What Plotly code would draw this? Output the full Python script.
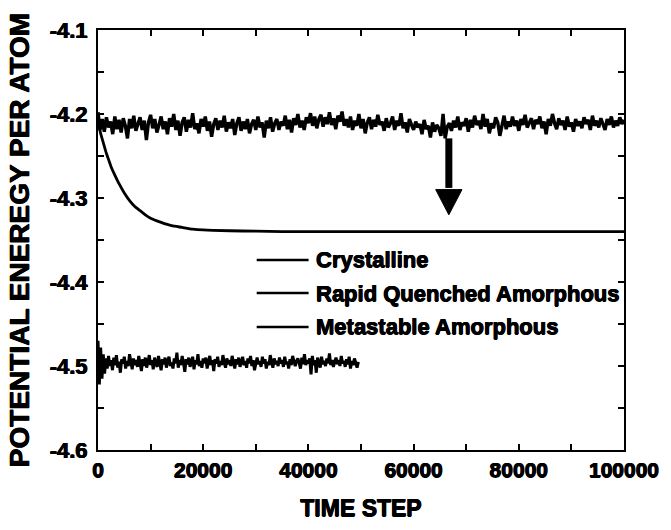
import plotly.graph_objects as go

# ---- data -------------------------------------------------------------
# Rapid quenched amorphous: potential energy sampled every 400 time steps
RQA_STEP = 400
RQA_ENERGY = [
    -4.198, -4.219, -4.206, -4.221, -4.204, -4.216, -4.209, -4.224, -4.203, -4.218,
    -4.207, -4.222, -4.205, -4.214, -4.229, -4.206, -4.217, -4.202, -4.220, -4.211,
    -4.204, -4.219, -4.208, -4.231, -4.210, -4.201, -4.217, -4.206, -4.222, -4.213,
    -4.203, -4.218, -4.209, -4.224, -4.205, -4.215, -4.200, -4.219, -4.208, -4.226,
    -4.210, -4.204, -4.221, -4.207, -4.216, -4.199, -4.218, -4.211, -4.223, -4.206,
    -4.215, -4.203, -4.220, -4.209, -4.227, -4.212, -4.205, -4.219, -4.208, -4.216,
    -4.202, -4.221, -4.210, -4.217, -4.206, -4.225, -4.211, -4.204, -4.220, -4.209,
    -4.218, -4.206, -4.223, -4.212, -4.207, -4.219, -4.203, -4.216, -4.210, -4.228,
    -4.208, -4.217, -4.204, -4.221, -4.211, -4.206, -4.219, -4.209, -4.214, -4.202,
    -4.218, -4.207, -4.222, -4.205, -4.213, -4.200, -4.216, -4.208, -4.219, -4.204,
    -4.211, -4.199, -4.214, -4.203, -4.217, -4.206, -4.201, -4.215, -4.204, -4.212,
    -4.198, -4.213, -4.205, -4.218, -4.202, -4.209, -4.197, -4.214, -4.206, -4.216,
    -4.203, -4.219, -4.208, -4.214, -4.200, -4.217, -4.206, -4.223, -4.210, -4.204,
    -4.218, -4.207, -4.215, -4.201, -4.213, -4.209, -4.220, -4.205, -4.216, -4.211,
    -4.203, -4.219, -4.208, -4.214, -4.199, -4.217, -4.210, -4.222, -4.206, -4.213,
    -4.219, -4.209, -4.216, -4.212, -4.224, -4.207, -4.218, -4.214, -4.228, -4.210,
    -4.221, -4.213, -4.217, -4.226, -4.200, -4.229, -4.215, -4.211, -4.220, -4.208,
    -4.216, -4.203, -4.219, -4.210, -4.214, -4.205, -4.221, -4.207, -4.216, -4.202,
    -4.213, -4.208, -4.218, -4.200, -4.215, -4.206, -4.223, -4.211, -4.217, -4.204,
    -4.210, -4.226, -4.212, -4.202, -4.218, -4.209, -4.215, -4.203, -4.214, -4.208,
    -4.220, -4.206, -4.213, -4.201, -4.216, -4.210, -4.205, -4.218, -4.207, -4.212,
    -4.203, -4.217, -4.209, -4.224, -4.206, -4.214, -4.200, -4.211, -4.218, -4.205,
    -4.213, -4.208, -4.219, -4.203, -4.215, -4.210, -4.221, -4.206, -4.214, -4.209,
    -4.217, -4.204, -4.212, -4.207, -4.219, -4.202, -4.214, -4.208, -4.216, -4.205,
    -4.211, -4.219, -4.206, -4.213, -4.203, -4.216, -4.208, -4.214, -4.204, -4.212,
    -4.207,
]

# Crystalline: potential energy sampled every 250 time steps
CRYS_STEP = 250
CRYS_ENERGY = [
    -4.470, -4.522, -4.478, -4.515, -4.486, -4.509, -4.491, -4.503, -4.488, -4.500,
    -4.493, -4.505, -4.490, -4.499, -4.487, -4.502, -4.495, -4.508, -4.492, -4.497,
    -4.489, -4.503, -4.494, -4.500, -4.486, -4.498, -4.504, -4.491, -4.499, -4.493,
    -4.501, -4.488, -4.497, -4.506, -4.492, -4.500, -4.490, -4.502, -4.495, -4.487,
    -4.499, -4.493, -4.504, -4.490, -4.497, -4.501, -4.488, -4.496, -4.505, -4.492,
    -4.498, -4.490, -4.502, -4.494, -4.489, -4.500, -4.496, -4.503, -4.491, -4.497,
    -4.484, -4.502, -4.493, -4.499, -4.488, -4.496, -4.507, -4.492, -4.498, -4.490,
    -4.501, -4.495, -4.489, -4.504, -4.493, -4.498, -4.486, -4.500, -4.494, -4.502,
    -4.491, -4.497, -4.490, -4.503, -4.495, -4.488, -4.499, -4.493, -4.506, -4.492,
    -4.497, -4.489, -4.501, -4.494, -4.499, -4.487, -4.496, -4.502, -4.491, -4.498,
    -4.493, -4.500, -4.488, -4.497, -4.503, -4.492, -4.498, -4.490, -4.501, -4.495,
    -4.489, -4.499, -4.494, -4.502, -4.491, -4.497, -4.488, -4.500, -4.493, -4.505,
    -4.496, -4.490, -4.498, -4.494, -4.501, -4.489, -4.497, -4.492, -4.503, -4.495,
    -4.499, -4.487, -4.496, -4.502, -4.491, -4.498, -4.494, -4.500, -4.490, -4.497,
    -4.493, -4.501, -4.489, -4.498, -4.495, -4.503, -4.492, -4.499, -4.488, -4.496,
    -4.500, -4.494, -4.491, -4.497, -4.503, -4.490, -4.498, -4.486, -4.499, -4.493,
    -4.497, -4.491, -4.510, -4.488, -4.499, -4.493, -4.508, -4.490, -4.496, -4.502,
    -4.489, -4.498, -4.494, -4.500, -4.491, -4.497, -4.485, -4.499, -4.493, -4.501,
    -4.495, -4.490, -4.498, -4.493, -4.500, -4.488, -4.497, -4.494, -4.501, -4.492,
    -4.498, -4.489, -4.503, -4.494, -4.499, -4.491, -4.496, -4.502, -4.495,
]

# Metastable amorphous: relaxation from the quenched state
META_STEPS = [0, 500, 1000, 1500, 2000, 2500, 3000, 4000, 5000, 6000, 7000, 8000,
              9000, 10000, 12000, 14000, 16000, 18000, 20000, 25000, 30000, 35000,
              40000, 50000, 60000, 70000, 80000, 90000, 100000]
META_ENERGY = [-4.210, -4.223, -4.234, -4.245, -4.254, -4.263, -4.270, -4.283, -4.294,
               -4.303, -4.310, -4.315, -4.320, -4.324, -4.329, -4.333, -4.335, -4.337,
               -4.338, -4.339, -4.3395, -4.340, -4.340, -4.340, -4.340, -4.340,
               -4.340, -4.340, -4.340]

SERIES_NAMES = ["Crystalline", "Rapid Quenched Amorphous", "Metastable Amorphous"]

X_TICKS = [0, 10000, 20000, 30000, 40000, 50000, 60000, 70000, 80000, 90000, 100000]
X_TICK_LABELS = ["0", "", "20000", "", "40000", "", "60000", "", "80000", "", "100000"]
Y_TICKS = [-4.6, -4.55, -4.5, -4.45, -4.4, -4.35, -4.3, -4.25, -4.2, -4.15, -4.1]
Y_TICK_LABELS = ["-4.6", "", "-4.5", "", "-4.4", "", "-4.3", "", "-4.2", "", "-4.1"]


def bold(s):
    return f"<b>{s}</b>" if s else ""


# ---- figure -----------------------------------------------------------
BLACK = "#000000"
FONT = "Liberation Sans, Arial, sans-serif"
# a thin text shadow thickens the heavy bold lettering
HEAVY = "0.5px 0 0 #000, -0.5px 0 0 #000, 0 0.5px 0 #000"


def heavy_font(size):
    return dict(family=FONT, size=size, color=BLACK, weight="bold", shadow=HEAVY)


rqa_x = [i * RQA_STEP for i in range(len(RQA_ENERGY))]
crys_x = [i * CRYS_STEP for i in range(len(CRYS_ENERGY))]

fig = go.Figure()
fig.add_trace(go.Scatter(x=crys_x, y=CRYS_ENERGY, mode="lines", name=SERIES_NAMES[0],
                         line=dict(color=BLACK, width=3), showlegend=False))
fig.add_trace(go.Scatter(x=rqa_x, y=RQA_ENERGY, mode="lines", name=SERIES_NAMES[1],
                         line=dict(color=BLACK, width=3.4), showlegend=False))
fig.add_trace(go.Scatter(x=META_STEPS, y=META_ENERGY, mode="lines", name=SERIES_NAMES[2],
                         line=dict(color=BLACK, width=2.8, shape="spline", smoothing=0.6),
                         showlegend=False))

# legend drawn as short line samples with labels
leg_x0, leg_x1, leg_text_x = 0.3017, 0.4004, 0.4097
leg_rows = [0.4524, 0.3738, 0.2929]
shapes = []
annotations = []
for name, yy in zip(SERIES_NAMES, leg_rows):
    shapes.append(dict(type="line", xref="paper", yref="paper", x0=leg_x0, x1=leg_x1,
                       y0=yy, y1=yy, line=dict(color=BLACK, width=2.5)))
    annotations.append(dict(xref="paper", yref="paper", x=leg_text_x, y=yy, text=bold(name),
                            showarrow=False, xanchor="left", yanchor="middle",
                            font=heavy_font(22)))

# downward arrow from the quenched level toward the relaxed level
arrow_x = 66700
arrow_top, arrow_neck, arrow_tip = -4.229, -4.290, -4.320
arrow_half = 2500
shapes.append(dict(type="line", xref="x", yref="y", x0=arrow_x, x1=arrow_x,
                   y0=arrow_top, y1=arrow_neck + 0.002, line=dict(color=BLACK, width=7)))
shapes.append(dict(type="path", xref="x", yref="y",
                   path=f"M {arrow_x - arrow_half},{arrow_neck} L {arrow_x + arrow_half},{arrow_neck} "
                        f"L {arrow_x},{arrow_tip} Z",
                   fillcolor=BLACK, line=dict(color=BLACK, width=1)))

axis_common = dict(showline=True, linecolor=BLACK, linewidth=2, mirror="ticks",
                   ticks="inside", ticklen=6, tickwidth=1.5, tickcolor=BLACK,
                   showgrid=False, zeroline=False)

fig.update_layout(
    width=671, height=530,
    margin=dict(l=98, r=36, t=30, b=80),
    paper_bgcolor="white", plot_bgcolor="white",
    shapes=shapes, annotations=annotations,
    xaxis=dict(range=[0, 100000], tickvals=X_TICKS, ticktext=[bold(t) for t in X_TICK_LABELS],
               tickfont=heavy_font(21),
               title=dict(text=bold("TIME STEP"), standoff=20, font=heavy_font(23)),
               **axis_common),
    yaxis=dict(range=[-4.6, -4.1], tickvals=Y_TICKS, ticktext=[bold(t) for t in Y_TICK_LABELS],
               tickfont=heavy_font(22), ticklabelstandoff=4,
               title=dict(text=bold("POTENTIAL ENEREGY PER ATOM"), standoff=12,
                          font=heavy_font(28)),
               **axis_common),
)

fig.write_html("out.html")
